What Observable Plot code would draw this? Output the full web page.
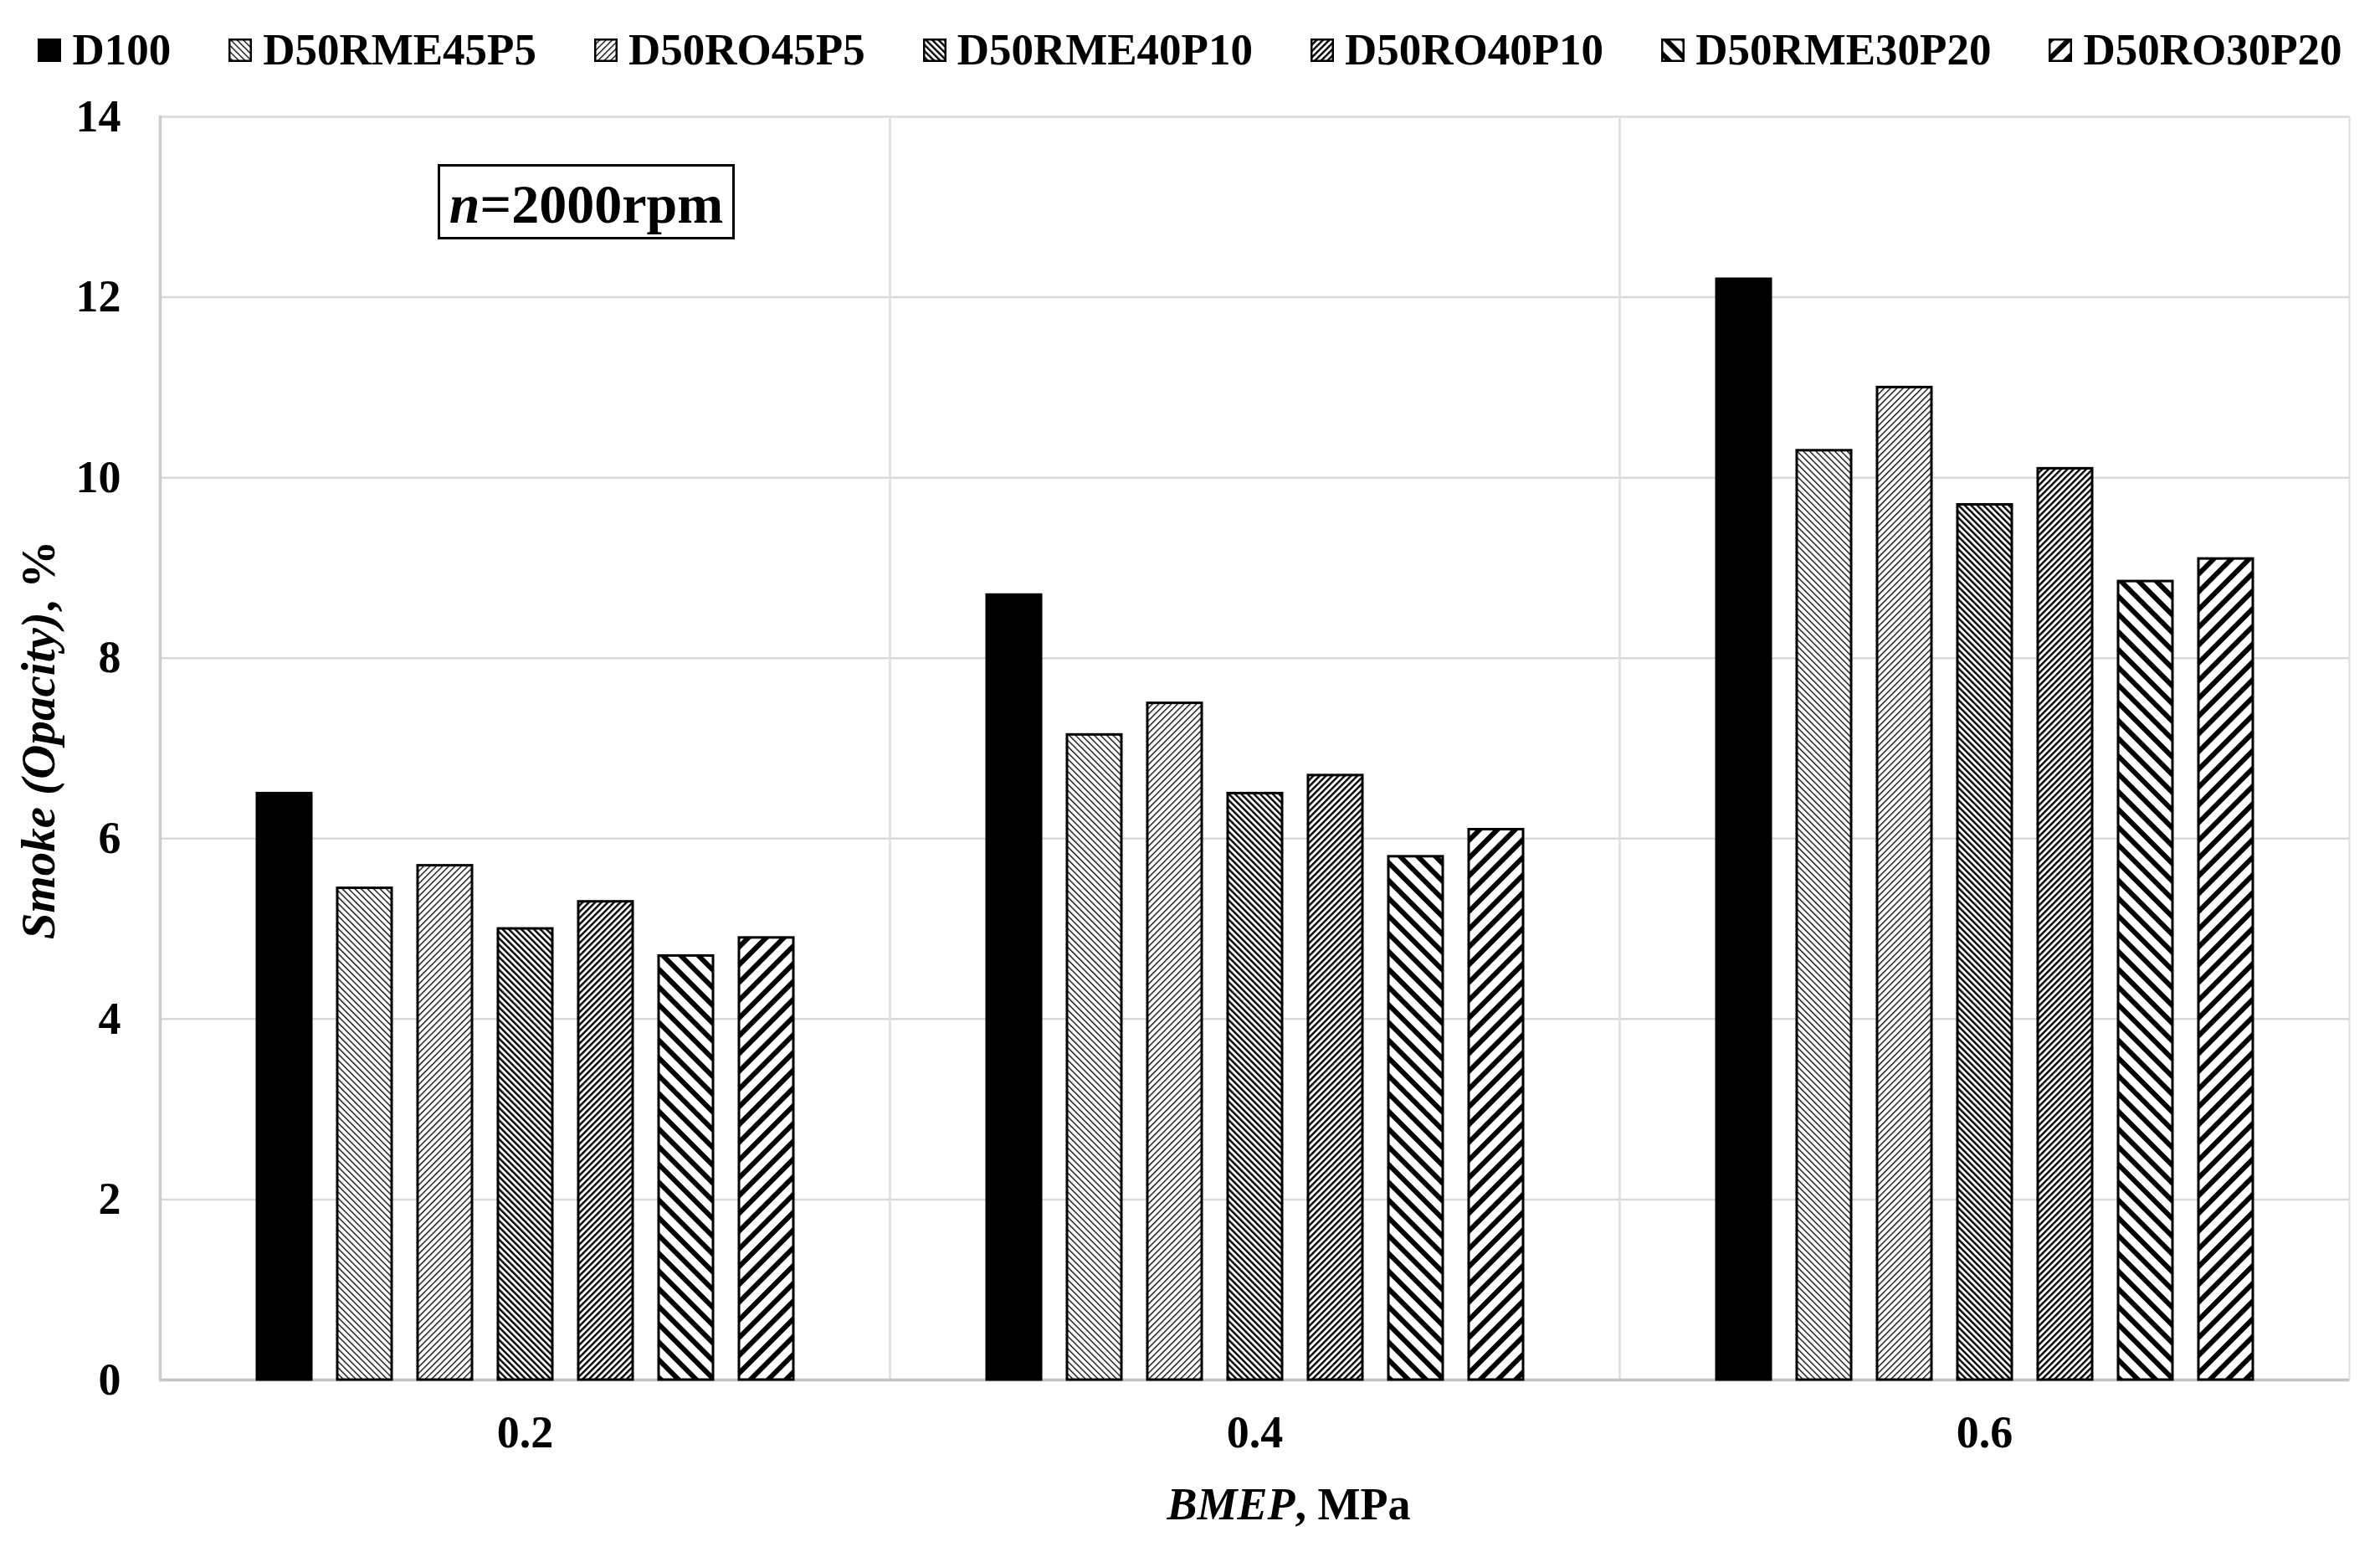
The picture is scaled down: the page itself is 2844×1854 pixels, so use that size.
<!DOCTYPE html>
<html>
<head>
<meta charset="utf-8">
<script src="https://cdn.jsdelivr.net/npm/d3@7"></script>
<script src="https://cdn.jsdelivr.net/npm/@observablehq/plot@0.6"></script>
<style>
  html, body { margin: 0; padding: 0; background: #fff; }
  #wrap { position: relative; width: 2844px; height: 1854px; background: #fff;
          font-family: "Liberation Serif", "Times New Roman", serif; font-weight: bold; color: #000; }
  #legend { height: 100px; box-sizing: border-box; padding-top: 19px; display: flex;
            justify-content: center; align-items: center; gap: 69px; font-size: 53px; line-height: 53px; }
  #legend .item { display: flex; align-items: center; }
  #legend svg { margin-right: 13px; display: block; }
  #defs { position: absolute; width: 0; height: 0; overflow: hidden; }
</style>
</head>
<body>
<div id="wrap">
  <svg id="defs" width="0" height="0"></svg>
  <div id="legend"></div>
  <div id="chart"></div>
</div>
<script>
// ---- data ----
const fuels = ["D100", "D50RME45P5", "D50RO45P5", "D50RME40P10", "D50RO40P10", "D50RME30P20", "D50RO30P20"];
const bmep = ["0.2", "0.4", "0.6"];
const smoke02 = [6.5, 5.45, 5.7, 5.0, 5.3, 4.7, 4.9];
const smoke04 = [8.7, 7.15, 7.5, 6.5, 6.7, 5.8, 6.1];
const smoke06 = [12.2, 10.3, 11.0, 9.7, 10.1, 8.85, 9.1];
const yTicks = [0, 2, 4, 6, 8, 10, 12, 14];

const series = [smoke02, smoke04, smoke06];
const table = [];
bmep.forEach((b, gi) => fuels.forEach((f, fi) => table.push({bmep: b, fuel: f, value: series[gi][fi]})));

// ---- hatch patterns ----
// [direction angle, period, line width]
const hatch = [null, [-45, 5.3, 1.3], [45, 5.3, 1.3], [-45, 5.3, 2.4], [45, 5.3, 2.4], [-45, 15, 6], [45, 15, 6]];
const defs = d3.select("#defs").append("defs");
hatch.forEach((h, i) => {
  if (!h) return;
  const [ang, p, w] = h;
  const pat = defs.append("pattern").attr("id", "pat" + i).attr("patternUnits", "userSpaceOnUse")
    .attr("width", p).attr("height", p).attr("patternTransform", `rotate(${ang})`);
  pat.append("rect").attr("width", p).attr("height", p).attr("fill", "#fff");
  pat.append("rect").attr("x", 0).attr("width", w).attr("height", p).attr("fill", "#000");
});
const fills = fuels.map((f, i) => hatch[i] ? `url(#pat${i})` : "#000");

// ---- legend ----
const legend = d3.select("#legend");
fuels.forEach((f, i) => {
  const it = legend.append("div").attr("class", "item");
  const s = it.append("svg").attr("width", 28).attr("height", 28);
  s.append("rect").attr("x", i ? 1.25 : 0).attr("y", i ? 1.25 : 0)
    .attr("width", i ? 25.5 : 28).attr("height", i ? 25.5 : 28)
    .attr("fill", fills[i]).attr("stroke", i ? "#000" : "none").attr("stroke-width", 2.5);
  it.append("span").text(f);
});

// ---- chart ----
const chart = Plot.plot({
  width: 2844,
  height: 1754,
  marginLeft: 190,
  marginRight: 36,
  marginTop: 39,
  marginBottom: 206,
  style: {fontFamily: "'Liberation Serif', 'Times New Roman', serif", fontWeight: "bold", fontSize: "54px", background: "#fff", color: "#000", overflow: "visible"},
  fx: {domain: bmep, padding: 0, axis: "bottom", label: null, tickSize: 0, tickPadding: 42},
  x: {domain: fuels, paddingInner: 0.326, paddingOuter: 1.187, axis: null},
  y: {domain: [0, 14], ticks: yTicks, label: null, tickSize: 0, tickPadding: 47},
  color: {domain: fuels, range: fills},
  marks: [
    Plot.gridY(yTicks, {stroke: "#d9d9d9", strokeWidth: 2.5, strokeOpacity: 1}),
    Plot.frame({stroke: "#dedede", strokeWidth: 2}),
    Plot.ruleY([0], {stroke: "#c4c4c4", strokeWidth: 3.5}),
    Plot.frame({anchor: "left", facetAnchor: "left", stroke: "#cccccc", strokeWidth: 3.5}),
    Plot.barY(table, {fx: "bmep", x: "fuel", y: "value", fill: "fuel", stroke: "#000", strokeWidth: 3})
  ]
});
document.getElementById("chart").appendChild(chart);

const svg = d3.select(chart);
// y axis title
const yt = svg.append("text").attr("transform", "translate(65,784) rotate(-90)")
  .attr("text-anchor", "middle").attr("font-size", 57).attr("font-weight", "bold").attr("fill", "#000");
yt.append("tspan").attr("font-style", "italic").text("Smoke (Opacity)");
yt.append("tspan").text(", %");
// x axis title
const xt = svg.append("text").attr("x", 1540).attr("y", 1715)
  .attr("text-anchor", "middle").attr("font-size", 54).attr("font-weight", "bold").attr("fill", "#000");
xt.append("tspan").attr("font-style", "italic").text("BMEP");
xt.append("tspan").text(", MPa");
// annotation box
const ann = svg.append("g");
ann.append("rect").attr("x", 524.5).attr("y", 97.5).attr("width", 352).attr("height", 87)
  .attr("fill", "#fff").attr("stroke", "#000").attr("stroke-width", 3);
const at = ann.append("text").attr("x", 700.5).attr("y", 166).attr("text-anchor", "middle")
  .attr("font-size", 66).attr("font-weight", "bold").attr("fill", "#000");
at.append("tspan").attr("font-style", "italic").text("n");
at.append("tspan").text("=2000rpm");
</script>
</body>
</html>
